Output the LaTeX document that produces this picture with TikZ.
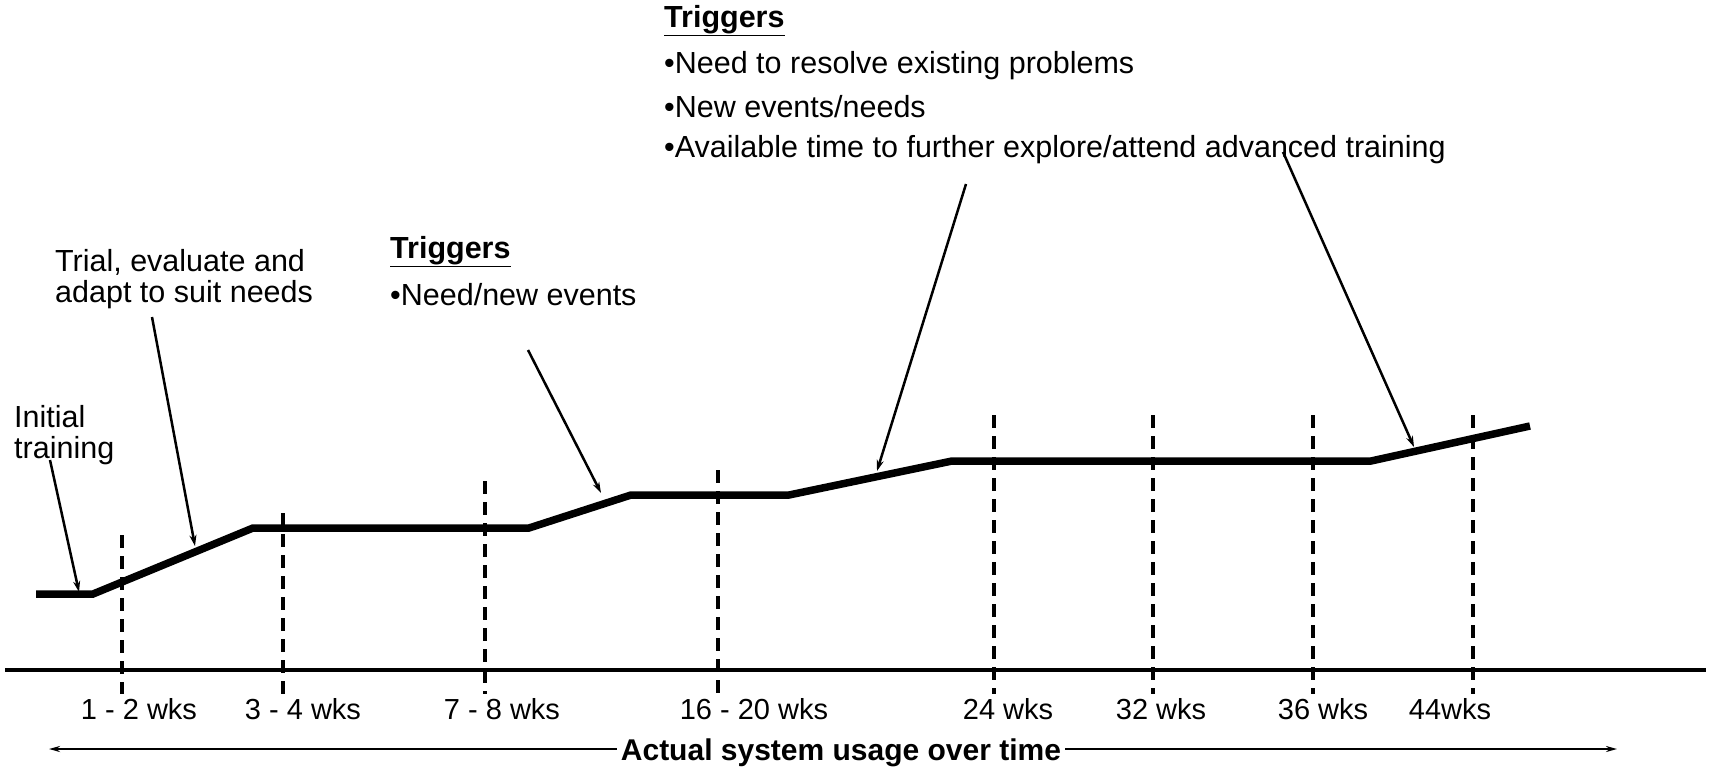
\documentclass[tikz,border=0pt]{standalone}
\usepackage{fontspec}
\setmainfont{Liberation Sans}
\usetikzlibrary{arrows.meta}
\begin{document}
\begin{tikzpicture}[x=1pt,y=-1pt,
  lbl/.style={inner sep=0pt, font=\fontsize{30.5}{30.5}\selectfont},
  wk/.style={inner sep=0pt, font=\fontsize{29}{29}\selectfont},
  usageline/.style={line width=7.5pt, line join=miter},
  axisline/.style={line width=4pt},
  guide/.style={line width=3.2pt, dash pattern=on 13pt off 8pt},
  pointer/.style={line width=2.5pt, -{Stealth[length=11pt,width=7pt]}},
  timearrow/.style={line width=2.5pt, -{Stealth[length=11pt,width=6pt]}},
]
\useasboundingbox (0,0) rectangle (1713,766);
\fill[white] (0,0) rectangle (1713,766);

% axis
\coordinate (ax0) at (5,670);
\coordinate (ax1) at (1706,670);
\draw[axisline] (ax0) -- (ax1);

% dashed guides
\foreach \n/\x/\t in {a/122/535, b/283/513, c/485/481, d/718/470, e/994/415, f/1153/415, g/1313/415, h/1473/415} {
  \coordinate (g\n top) at (\x,\t);
  \coordinate (g\n bot) at (\x,694);
  \draw[guide] (g\n top) -- (g\n bot);
}

% usage curve
\coordinate (u0) at (36,594);
\coordinate (u1) at (93,594);
\coordinate (u2) at (253,528);
\coordinate (u3) at (529,528);
\coordinate (u4) at (631,495);
\coordinate (u5) at (789,495);
\coordinate (u6) at (952,461);
\coordinate (u7) at (1371,461);
\coordinate (u8) at (1530,426);
\draw[usageline] (u0) -- (u1) -- (u2) -- (u3) -- (u4) -- (u5) -- (u6) -- (u7) -- (u8);

% time labels
\node[wk] (w1) at (139,709) {1 - 2 wks};
\node[wk] (w2) at (303,709) {3 - 4 wks};
\node[wk] (w3) at (502,709) {7 - 8 wks};
\node[wk] (w4) at (754,709) {16 - 20 wks};
\node[wk] (w5) at (1008,709) {24 wks};
\node[wk] (w6) at (1161,709) {32 wks};
\node[wk] (w7) at (1323,709) {36 wks};
\node[wk] (w8) at (1450,709) {44wks};

% time arrow
\node[lbl, font=\fontsize{30}{30}\selectfont\bfseries, inner xsep=4pt] (usage) at (841,753) {Actual system usage over time};
\coordinate (tl) at (49,749);
\coordinate (tr) at (1617,749);
\draw[timearrow] (usage.west |- tl) -- (tl);
\draw[timearrow] (usage.east |- tr) -- (tr);

% annotations
\node[lbl, anchor=west, align=left] (init) at (14,435) {Initial\\training};
\node[lbl, anchor=west, align=left] (trial) at (55,279) {Trial, evaluate and\\adapt to suit needs};

\node[lbl, anchor=west] (trig1) at (390,252) {\underline{\textbf{Triggers}}};
\node[lbl, anchor=west] (trig1a) at (390,295) {•Need/new events};

\node[lbl, anchor=west] (trig2) at (664,21) {\underline{\textbf{Triggers}}};
\node[lbl, anchor=west] (trig2a) at (664,66) {•Need to resolve existing problems};
\node[lbl, anchor=west] (trig2b) at (664,107) {•New events/needs};
\node[lbl, anchor=west] (trig2c) at (664,150) {•Available time to further explore/attend advanced training};

% pointers
\coordinate (p1s) at (50,460);   \coordinate (p1e) at (79,592);
\coordinate (p2s) at (152,317);  \coordinate (p2e) at (195,546);
\coordinate (p3s) at (528,350);  \coordinate (p3e) at (601,493);
\coordinate (p4s) at (966,184);  \coordinate (p4e) at (877,471);
\coordinate (p5s) at (1283,152); \coordinate (p5e) at (1414,447);
\draw[pointer] (p1s) -- (p1e);
\draw[pointer] (p2s) -- (p2e);
\draw[pointer] (p3s) -- (p3e);
\draw[pointer] (p4s) -- (p4e);
\draw[pointer] (p5s) -- (p5e);
\end{tikzpicture}
\end{document}
